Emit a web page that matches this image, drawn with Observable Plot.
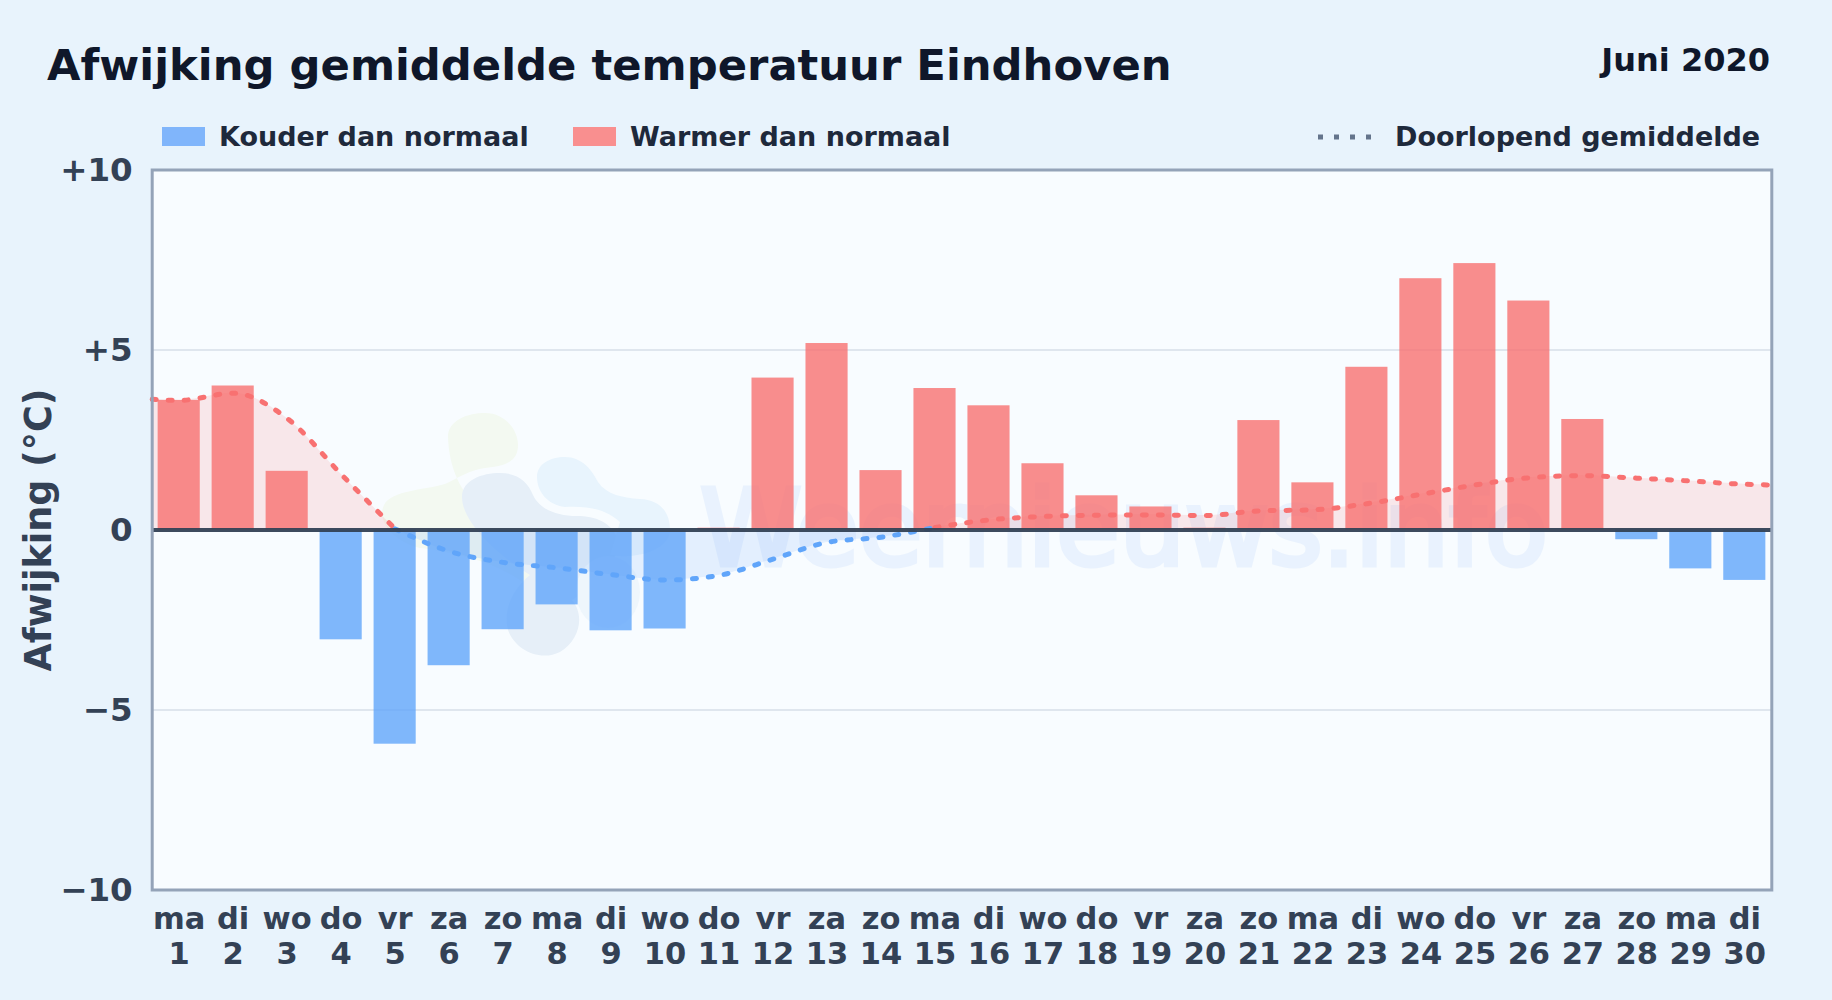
<!DOCTYPE html>
<html lang="nl">
<head>
<meta charset="utf-8">
<script src="https://cdn.jsdelivr.net/npm/d3@7"></script>
<script src="https://cdn.jsdelivr.net/npm/@observablehq/plot@0.6"></script>
<style>
  html, body { margin: 0; padding: 0; background: #e8f3fc; }
  body { width: 1832px; height: 1000px; position: relative; overflow: hidden; font-family: "DejaVu Sans", sans-serif; font-weight: 700; }
  .abs { position: absolute; white-space: nowrap; }
  #title { left: 47px; top: 39px; font-size: 43.3px; line-height: 52px; color: #0f172a; }
  #period { right: 62px; top: 40px; font-size: 32px; line-height: 40px; color: #0f172a; }
  .legend { top: 121px; font-size: 27px; line-height: 32px; color: #1e293b; }
  .swatch { position: absolute; top: 127px; width: 43px; height: 19px; }
  #backdrop { position: absolute; left: 0; top: 0; }
  #chart { position: absolute; left: 0; top: 150px; }
  #chart svg { display: block; background: transparent; }
</style>
</head>
<body>
<svg id="backdrop" width="1832" height="1000" aria-hidden="true">
  <rect x="152" y="170" width="1619" height="720" fill="#f8fcff"/>
  <path fill="#f3f9f1" d="M448 437C448 420 468 413 485 413C505 413 518 430 518 445C518 462 505 466 485 468C470 470 458 478 445 484C425 490 392 490 384 505C376 522 395 542 420 548C450 552 500 560 535 592L535 540C480 520 450 490 448 437Z"/>
  <path fill="#e6eff8" d="M462 497C462 480 482 473 500 473C518 473 528 482 533 495C540 510 558 516 577 516C595 516 612 522 618 540C622 560 590 590 572 600C585 615 580 640 560 652C540 662 515 650 508 630C503 610 512 590 530 575C505 560 462 525 462 497Z"/>
  <path fill="#e8f4fd" d="M537 477C537 464 550 457 565 457C582 457 592 470 598 482C606 494 622 498 640 499C660 500 670 512 670 530C670 548 640 560 610 555L620 522C605 508 585 506 565 507C548 505 537 492 537 477Z"/>
  <ellipse fill="#eef6fc" cx="608" cy="592" rx="32" ry="36"/>
  <text x="700" y="565" font-family="DejaVu Sans" font-size="106" font-weight="400" fill="#3b82f6" stroke="#3b82f6" stroke-width="5" opacity="0.075" textLength="848" lengthAdjust="spacingAndGlyphs">Weernieuws.info</text>
</svg>
<div id="title" class="abs">Afwijking gemiddelde temperatuur Eindhoven</div>
<div id="period" class="abs">Juni 2020</div>
<div class="swatch" style="left:162px;background:#80b5fb"></div>
<div class="abs legend" style="left:219px">Kouder dan normaal</div>
<div class="swatch" style="left:573px;background:#f98f8f"></div>
<div class="abs legend" style="left:630px">Warmer dan normaal</div>
<svg class="abs" style="left:1316px;top:132px" width="60" height="10" aria-hidden="true"><line x1="2" x2="58" y1="5" y2="5" stroke="#64748b" stroke-width="5" stroke-dasharray="5 11"/></svg>
<div class="abs legend" style="left:1395px">Doorlopend gemiddelde</div>
<div id="chart"></div>
<script>
const days = d3.range(1, 31);
const weekdays = ["ma","di","wo","do","vr","za","zo","ma","di","wo","do","vr","za","zo","ma","di","wo","do","vr","za","zo","ma","di","wo","do","vr","za","zo","ma","di"];
const deviations = [3.6,4.0,1.63,-3.05,-5.95,-3.77,-2.77,-2.08,-2.8,-2.75,0.05,4.22,5.18,1.65,3.93,3.45,1.84,0.95,0.64,0.05,3.04,1.31,4.52,6.98,7.4,6.36,3.07,-0.27,-1.08,-1.4];
const runningX = [0.5,1,2,3,4,5,6,7,8,9,10,11,12,13,14,15,16,17,18,19,20,21,22,23,24,25,26,27,28,29,30,30.5];
const runningMean = [3.63,3.6,3.8,3.1,1.55,0.03,-0.59,-0.9,-1.05,-1.24,-1.39,-1.26,-0.81,-0.345,-0.2,0.07,0.28,0.375,0.41,0.42,0.4,0.53,0.56,0.73,0.99,1.25,1.45,1.51,1.44,1.36,1.27,1.25];
const yTicks = [-10,-5,0,5,10];
const yTickLabels = ["−10","−5","0","+5","+10"];

const BLUE = "#60a5fa", RED = "#f87171";
const bars = days.map((d, i) => ({day: d, value: deviations[i]}));
const running = runningX.map((x, i) => ({x, y: runningMean[i]}));
const warmBefore = running.filter(d => d.x <= 5);
const coldMiddle = running.filter(d => d.x >= 5 && d.x <= 15);
const warmAfter = running.filter(d => d.x >= 15);
const curve = "monotone-x";
const meanLine = (data, color) => [
  Plot.areaY(data, {x: "x", y1: 0, y2: "y", curve, fill: color, fillOpacity: color === RED ? 0.15 : 0.14}),
  Plot.line(data, {x: "x", y: "y", curve, stroke: color, strokeWidth: 5, strokeDasharray: "4 12", strokeLinecap: "round"})
];

const chart = Plot.plot({
  width: 1832,
  height: 850,
  marginTop: 19.5,
  marginBottom: 110.5,
  marginLeft: 151.7,
  marginRight: 60.7,
  style: {background: "transparent", fontFamily: "DejaVu Sans, sans-serif", overflow: "visible"},
  x: {domain: [0.5, 30.5], label: null},
  y: {domain: [-10, 10], label: null},
  marks: [
    Plot.ruleY([-5, 5], {stroke: "#dfe6ee", strokeWidth: 2}),
    Plot.rectY(bars, {x1: d => d.day - 0.39, x2: d => d.day + 0.39, y1: 0, y2: "value", fill: d => d.value < 0 ? BLUE : RED, fillOpacity: 0.8}),
    ...meanLine(warmBefore, RED),
    ...meanLine(coldMiddle, BLUE),
    ...meanLine(warmAfter, RED),
    Plot.ruleY([0], {stroke: "#334155", strokeWidth: 4, strokeOpacity: 0.95}),
    Plot.frame({stroke: "#94a3b8", strokeWidth: 3}),
    Plot.axisY({ticks: yTicks, tickFormat: d => yTickLabels[yTicks.indexOf(d)], tickSize: 0, tickPadding: 19.5, fontSize: 32.5, fontWeight: 700, fill: "#334155", dy: 1, label: null}),
    Plot.axisX({ticks: days, tickFormat: d => weekdays[d - 1] + "\n" + d, tickSize: 0, tickPadding: 15, fontSize: 30.5, fontWeight: 700, fill: "#334155", lineHeight: 1.13, label: null}),
    Plot.text(["Afwijking (°C)"], {frameAnchor: "left", rotate: -90, textAnchor: "middle", dx: -113, fontSize: 36.5, fontWeight: 700, fill: "#334155"})
  ]
});
document.getElementById("chart").appendChild(chart);
</script>
</body>
</html>
